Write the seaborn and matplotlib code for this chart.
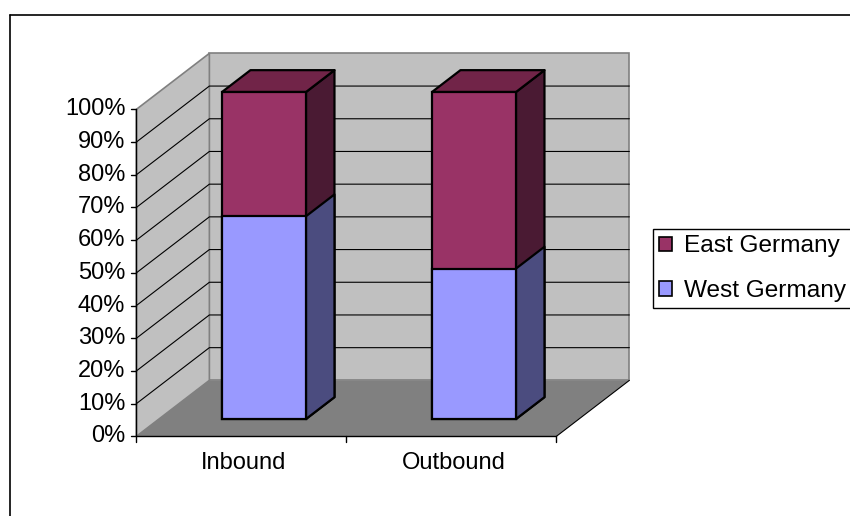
#!/usr/bin/env python3
"""
Excel-style 3D 100% stacked column chart: Inbound vs Outbound, West vs East Germany.
"""

import pandas as pd
import matplotlib.pyplot as plt
import seaborn as sns
from matplotlib.patches import Polygon, Patch
from matplotlib.lines import Line2D

# Data
categories = ["Inbound", "Outbound"]
west_share = [62, 46]
east_share = [38, 54]
tick_values = [0, 10, 20, 30, 40, 50, 60, 70, 80, 90, 100]
tick_labels = [f"{v}%" for v in tick_values]

# Colours
WEST_FRONT = "#9999FF"
WEST_SIDE = "#4B4C7F"
EAST_FRONT = "#993366"
EAST_SIDE = "#4A1A33"
EAST_TOP = "#712448"
WALL = "#C0C0C0"
FLOOR = "#808080"

# Oblique projection (data units of the bar front plane)
PX_X = 210.0          # pixels per category
PX_Y = 3.27           # pixels per percent
DX = 73 / PX_X        # full depth shift in x
DY = 56 / PX_Y        # full depth shift in y
Z_FRONT = -0.31       # floor front edge relative to bar plane
Z_BACK = 0.69         # back wall relative to bar plane
BAR_DEPTH = 0.39
FONT = 17


def proj(xc, v, z):
    return xc + z * DX, v + z * DY


def main():
    df = pd.DataFrame({"route": categories, "west": west_share, "east": east_share})
    df["total"] = df["west"] + df["east"]

    sns.set_style("white")
    plt.rcParams["font.family"] = ["Liberation Sans", "DejaVu Sans"]
    plt.rcParams["text.color"] = "black"

    fig = plt.figure(figsize=(8.5, 5.16), dpi=100)
    ax = fig.add_axes([0, 0, 1, 1])

    # Walls and floor
    left, right = -0.5, len(categories) - 0.5
    back = [proj(left, 0, Z_BACK), proj(right, 0, Z_BACK),
            proj(right, 100, Z_BACK), proj(left, 100, Z_BACK)]
    side = [proj(left, 0, Z_FRONT), proj(left, 100, Z_FRONT),
            proj(left, 100, Z_BACK), proj(left, 0, Z_BACK)]
    floor = [proj(left, 0, Z_FRONT), proj(right, 0, Z_FRONT),
             proj(right, 0, Z_BACK), proj(left, 0, Z_BACK)]
    ax.add_patch(Polygon(back, closed=True, facecolor=WALL, edgecolor=FLOOR, lw=1.2, zorder=1))
    ax.add_patch(Polygon(side, closed=True, facecolor=WALL, edgecolor=FLOOR, lw=1.2, zorder=1))
    ax.add_patch(Polygon(floor, closed=True, facecolor=FLOOR, edgecolor="none", zorder=1.5))

    # Gridlines on back and left walls
    for v in tick_values[1:-1]:
        p0 = proj(left, v, Z_FRONT)
        p1 = proj(left, v, Z_BACK)
        p2 = proj(right, v, Z_BACK)
        ax.plot([p0[0], p1[0], p2[0]], [p0[1], p1[1], p2[1]], color="black", lw=0.8, zorder=1.2)

    # Floor right edge
    p0, p1 = proj(right, 0, Z_FRONT), proj(right, 0, Z_BACK)
    ax.plot([p0[0], p1[0]], [p0[1], p1[1]], color="black", lw=0.8, zorder=1.6)

    # Value axis (front left edge) with ticks and labels
    a0, a1 = proj(left, 0, Z_FRONT), proj(left, 100, Z_FRONT)
    ax.plot([a0[0], a1[0]], [a0[1], a1[1]], color="black", lw=1.0, zorder=2)
    tick_len = 5 / PX_X
    for v, lab in zip(tick_values, tick_labels):
        x, y = proj(left, v, Z_FRONT)
        ax.plot([x - tick_len, x], [y, y], color="black", lw=1.0, zorder=2)
        ax.text(x - 2.2 * tick_len, y, lab, ha="right", va="center", fontsize=FONT)

    # Category axis
    c0, c1 = proj(left, 0, Z_FRONT), proj(right, 0, Z_FRONT)
    ax.plot([c0[0], c1[0]], [c0[1], c1[1]], color="black", lw=1.0, zorder=2)
    for i in range(len(categories) + 1):
        x, y = proj(left + i, 0, Z_FRONT)
        ax.plot([x, x], [y, y - 6 / PX_Y], color="black", lw=1.0, zorder=2)
    for i, cat in enumerate(categories):
        x, y = proj(i, 0, Z_FRONT)
        ax.text(x + 2 / PX_X, y - 27 / PX_Y, cat, ha="center", va="center", fontsize=FONT)

    # Bars (front faces)
    sns.barplot(data=df, x="route", y="total", color=EAST_FRONT, saturation=1,
                width=0.4, edgecolor="black", linewidth=1.6, ax=ax)
    sns.barplot(data=df, x="route", y="west", color=WEST_FRONT, saturation=1,
                width=0.4, edgecolor="black", linewidth=1.6, ax=ax)

    n = len(categories)
    bars = list(ax.patches[-2 * n:])
    bdx, bdy = BAR_DEPTH * DX, BAR_DEPTH * DY
    for k, bar in enumerate(bars):
        is_east = k < n
        x0, w = bar.get_x(), bar.get_width()
        y0, h = bar.get_y(), bar.get_height()
        zo = 3 if is_east else 4
        bar.set_zorder(zo + 0.5)
        sidepts = [(x0 + w, y0), (x0 + w + bdx, y0 + bdy),
                   (x0 + w + bdx, y0 + h + bdy), (x0 + w, y0 + h)]
        ax.add_patch(Polygon(sidepts, closed=True,
                             facecolor=EAST_SIDE if is_east else WEST_SIDE,
                             edgecolor="black", lw=1.6, joinstyle="round", zorder=zo))
        if is_east:
            toppts = [(x0, y0 + h), (x0 + bdx, y0 + h + bdy),
                      (x0 + w + bdx, y0 + h + bdy), (x0 + w, y0 + h)]
            ax.add_patch(Polygon(toppts, closed=True, facecolor=EAST_TOP,
                                 edgecolor="black", lw=1.6, joinstyle="round", zorder=zo))

    # Map data units to pixels of the 850x516 canvas
    ax.set_xlim(-264 / PX_X, 586 / PX_X)
    ax.set_ylim((419 - 516) / PX_Y, 419 / PX_Y)
    ax.axis("off")

    # Legend
    handles = [Patch(facecolor=EAST_FRONT, edgecolor="black", lw=1.2, label="East Germany"),
               Patch(facecolor=WEST_FRONT, edgecolor="black", lw=1.2, label="West Germany")]
    leg = ax.legend(handles=handles, loc="upper left", bbox_to_anchor=(653 / 850, 1 - 229 / 516),
                    bbox_transform=fig.transFigure, fontsize=17.6, frameon=True, fancybox=False,
                    framealpha=1, edgecolor="black", handlelength=0.5, handleheight=0.52,
                    handletextpad=0.5, labelspacing=0.93, borderpad=0.26, borderaxespad=0)
    leg.get_frame().set_linewidth(1.0)
    for t in leg.get_texts():
        t.set_color("black")

    # Chart area border (right and bottom lie outside the canvas)
    fig.add_artist(Line2D([10 / 850, 10 / 850], [-0.1, 1 - 15 / 516], color="black", lw=1.2,
                          transform=fig.transFigure))
    fig.add_artist(Line2D([10 / 850, 1.1], [1 - 15 / 516, 1 - 15 / 516], color="black", lw=1.2,
                          transform=fig.transFigure))

    plt.savefig("out.png", dpi=100)
    plt.close()


if __name__ == "__main__":
    main()
